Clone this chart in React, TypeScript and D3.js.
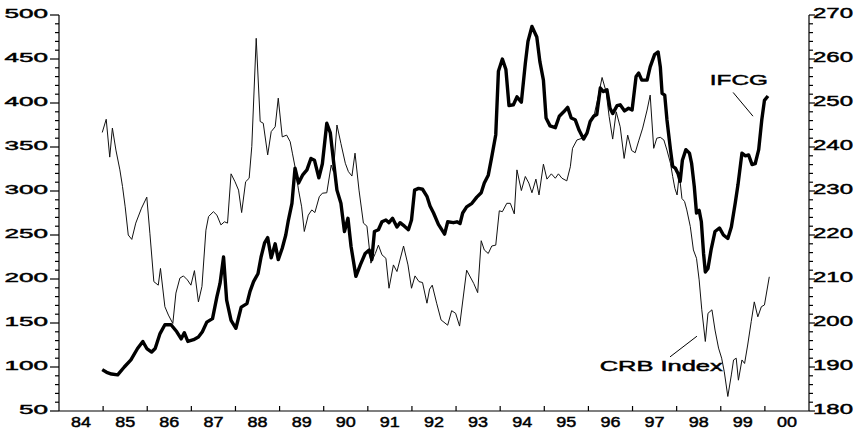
import * as d3 from "d3";
import React, { useEffect, useRef } from "react";

// IFCG index (left axis), dates as fractional years
const ifcgYears = [
  1984.98, 1985.08, 1985.19, 1985.33, 1985.48, 1985.63, 1985.78, 1985.9, 1985.99, 1986.1, 1986.18, 1986.29,
  1986.4, 1986.54, 1986.67, 1986.77, 1986.84, 1986.92, 1987.05, 1987.16, 1987.25, 1987.35, 1987.48, 1987.58,
  1987.65, 1987.73, 1987.8, 1987.9, 1988.01, 1988.13, 1988.26, 1988.33, 1988.41, 1988.51, 1988.58, 1988.66,
  1988.73, 1988.81, 1988.9, 1988.97, 1989.06, 1989.14, 1989.2, 1989.28, 1989.35, 1989.43, 1989.52, 1989.62,
  1989.71, 1989.79, 1989.89, 1989.97, 1990.07, 1990.15, 1990.22, 1990.3, 1990.39, 1990.47, 1990.55, 1990.62,
  1990.73, 1990.83, 1990.94, 1991.03, 1991.09, 1991.15, 1991.24, 1991.32, 1991.41, 1991.48, 1991.56, 1991.66,
  1991.73, 1991.83, 1991.92, 1991.99, 1992.06, 1992.15, 1992.24, 1992.34, 1992.41, 1992.49, 1992.6, 1992.74,
  1992.81, 1992.94, 1993.02, 1993.09, 1993.15, 1993.24, 1993.36, 1993.47, 1993.57, 1993.64, 1993.73, 1993.81,
  1993.9, 1993.96, 1994.05, 1994.13, 1994.2, 1994.3, 1994.38, 1994.48, 1994.57, 1994.63, 1994.72, 1994.83,
  1994.9, 1994.98, 1995.04, 1995.13, 1995.25, 1995.34, 1995.44, 1995.53, 1995.61, 1995.7, 1995.79, 1995.89,
  1995.97, 1996.04, 1996.12, 1996.19, 1996.27, 1996.34, 1996.42, 1996.49, 1996.55, 1996.65, 1996.72, 1996.82,
  1996.91, 1996.99, 1997.08, 1997.14, 1997.21, 1997.33, 1997.4, 1997.5, 1997.58, 1997.63, 1997.67, 1997.73,
  1997.78, 1997.86, 1997.91, 1997.97, 1998.03, 1998.08, 1998.13, 1998.21, 1998.29, 1998.34, 1998.4, 1998.45,
  1998.51, 1998.56, 1998.61, 1998.65, 1998.71, 1998.78, 1998.87, 1998.97, 1999.06, 1999.16, 1999.24, 1999.33,
  1999.39, 1999.48, 1999.56, 1999.63, 1999.71, 1999.78, 1999.86, 1999.93, 1999.99, 2000.07,
];
const ifcgValues = [
  97, 94, 92, 91, 100, 108, 121, 129, 121, 117, 121, 138,
  148, 148, 140, 132, 139, 129, 131, 134, 140, 151, 155, 180,
  195, 225, 176, 153, 144, 168, 172, 186, 197, 206, 225, 241,
  247, 224, 240, 222, 235, 250, 267, 286, 326, 309, 318, 324,
  337, 335, 315, 331, 377, 366, 335, 301, 286, 254, 269, 237,
  203, 216, 229, 233, 222, 254, 256, 265, 267, 264, 269, 259,
  264, 260, 256, 267, 301, 303, 302, 294, 283, 275, 262, 251,
  265, 264, 265, 263, 275, 282, 286, 293, 298, 309, 318, 339,
  364, 436, 450, 438, 397, 398, 407, 401, 445, 470, 487, 475,
  447, 426, 383, 374, 372, 385, 390, 395, 383, 381, 369, 359,
  366, 379, 385, 387, 417, 413, 415, 394, 388, 397, 398, 391,
  394, 392, 430, 434, 426, 426, 441, 455, 458, 441, 411, 409,
  381, 347, 328, 326, 320, 311, 335, 347, 343, 331, 305, 275,
  278, 265, 229, 208, 212, 233, 254, 258, 250, 246, 259, 287,
  307, 343, 340, 341, 330, 331, 347, 381, 403, 408,
];

// CRB commodity index (right axis)
const crbYears = [
  1984.98, 1985.07, 1985.15, 1985.21, 1985.29, 1985.38, 1985.44, 1985.5, 1985.57, 1985.65, 1985.74, 1985.87,
  1985.99, 1986.06, 1986.15, 1986.25, 1986.3, 1986.4, 1986.48, 1986.58, 1986.65, 1986.74, 1986.82, 1986.91,
  1986.99, 1987.07, 1987.16, 1987.24, 1987.33, 1987.39, 1987.5, 1987.58, 1987.67, 1987.75, 1987.82, 1987.9,
  1987.99, 1988.07, 1988.14, 1988.23, 1988.31, 1988.37, 1988.47, 1988.56, 1988.63, 1988.73, 1988.81, 1988.9,
  1988.97, 1989.06, 1989.16, 1989.24, 1989.29, 1989.35, 1989.43, 1989.5, 1989.56, 1989.65, 1989.73, 1989.8,
  1989.9, 1989.97, 1990.07, 1990.17, 1990.22, 1990.3, 1990.39, 1990.49, 1990.56, 1990.64, 1990.71, 1990.8,
  1990.9, 1990.98, 1991.07, 1991.17, 1991.24, 1991.32, 1991.41, 1991.48, 1991.58, 1991.66, 1991.81, 1991.91,
  1991.99, 1992.07, 1992.16, 1992.24, 1992.34, 1992.4, 1992.46, 1992.56, 1992.66, 1992.81, 1992.9, 1992.99,
  1993.08, 1993.24, 1993.4, 1993.49, 1993.57, 1993.64, 1993.73, 1993.81, 1993.9, 1993.98, 1994.05, 1994.15,
  1994.23, 1994.32, 1994.38, 1994.48, 1994.57, 1994.65, 1994.72, 1994.81, 1994.88, 1994.98, 1995.06, 1995.16,
  1995.25, 1995.32, 1995.4, 1995.51, 1995.59, 1995.64, 1995.74, 1995.86, 1995.97, 1996.06, 1996.14, 1996.22,
  1996.31, 1996.4, 1996.47, 1996.55, 1996.63, 1996.72, 1996.81, 1996.89, 1996.98, 1997.06, 1997.14, 1997.23,
  1997.33, 1997.4, 1997.48, 1997.55, 1997.63, 1997.71, 1997.78, 1997.86, 1997.91, 1997.96, 1998.01, 1998.06,
  1998.12, 1998.18, 1998.23, 1998.31, 1998.38, 1998.45, 1998.51, 1998.57, 1998.65, 1998.71, 1998.8, 1998.87,
  1998.95, 1999.02, 1999.08, 1999.16, 1999.24, 1999.29, 1999.35, 1999.4, 1999.48, 1999.54, 1999.61, 1999.69,
  1999.76, 1999.84, 1999.92, 1999.99, 2000.1,
];
const crbValues = [
  243.3, 246.3, 237.7, 244.3, 239.3, 234.8, 231.0, 226.4, 220.0, 219.0, 222.7, 226.1,
  228.6, 220.4, 209.4, 208.6, 212.4, 203.7, 201.8, 199.9, 206.8, 210.2, 210.7, 209.8,
  208.6, 211.9, 204.8, 208.3, 221.1, 224.2, 225.3, 224.5, 222.3, 223.0, 222.7, 233.9,
  232.1, 230.2, 225.1, 232.1, 232.9, 240.1, 264.7, 245.8, 245.4, 238.2, 243.5, 244.6,
  251.1, 242.3, 242.7, 241.2, 238.6, 235.5, 230.2, 226.4, 220.8, 224.5, 225.7, 225.1,
  228.7, 229.5, 229.6, 235.9, 234.4, 245.0, 240.8, 236.3, 234.4, 233.4, 238.6, 230.2,
  222.7, 222.0, 213.6, 215.8, 217.7, 215.5, 214.7, 207.9, 213.2, 211.7, 217.5, 213.2,
  207.9, 210.7, 209.4, 209.2, 204.5, 207.7, 208.6, 204.5, 200.7, 199.5, 202.8, 202.2,
  199.3, 212.0, 209.0, 206.9, 218.7, 216.6, 215.8, 217.5, 217.7, 225.5, 225.3, 227.2,
  227.2, 224.8, 234.8, 230.1, 233.3, 231.8, 229.6, 232.7, 229.1, 236.1, 232.7, 233.9,
  232.9, 233.9, 232.9, 232.3, 235.5, 239.7, 241.6, 242.0, 243.5, 246.1, 247.7, 251.4,
  255.8, 252.6, 246.9, 241.8, 248.0, 244.6, 237.4, 242.7, 239.2, 238.7, 241.4, 244.3,
  248.4, 251.8, 239.7, 242.0, 242.2, 241.6, 239.3, 236.3, 233.3, 230.6, 229.1, 233.9,
  228.3, 227.6, 225.7, 221.9, 216.6, 214.7, 209.8, 203.0, 195.8, 202.2, 203.0, 198.4,
  194.3, 192.0, 188.9, 183.3, 188.2, 191.6, 192.0, 187.0, 191.6, 190.8, 195.0, 200.3,
  204.8, 201.4, 203.7, 204.1, 210.5,
];

const yearLabels = ["84", "85", "86", "87", "88", "89", "90", "91", "92", "93", "94", "95", "96", "97", "98", "99", "00"];
const leftTicks = [50, 100, 150, 200, 250, 300, 350, 400, 450, 500];
const rightTicks = [180, 190, 200, 210, 220, 230, 240, 250, 260, 270];

const FONT = "'Liberation Sans', Arial, sans-serif";

const App: React.FC = () => {
  const svgRef = useRef<SVGSVGElement | null>(null);

  useEffect(() => {
    const svg = d3.select(svgRef.current);
    const width = 862;
    const height = 433;
    const margin = { top: 15, right: 53, bottom: 22, left: 59 };

    svg.selectAll("*").remove();

    const x = d3.scaleLinear().domain([1984, 2001]).range([margin.left, width - margin.right]);
    const yL = d3.scaleLinear().domain([50, 500]).range([height - margin.bottom, margin.top]);
    const yR = d3.scaleLinear().domain([180, 270]).range([height - margin.bottom, margin.top]);

    const axes = svg.append("g").attr("stroke", "#000").attr("stroke-width", 1.2);
    const xl = margin.left;
    const xr = width - margin.right;
    const yb = height - margin.bottom;

    // axis lines
    axes.append("line").attr("x1", xl).attr("x2", xl).attr("y1", margin.top).attr("y2", yb);
    axes.append("line").attr("x1", xr).attr("x2", xr).attr("y1", margin.top).attr("y2", yb);
    axes.append("line").attr("x1", xl).attr("x2", xr).attr("y1", yb).attr("y2", yb);

    // left ticks: minor every 10
    axes
      .selectAll(".lt")
      .data(d3.range(50, 501, 10))
      .join("line")
      .attr("x1", (d) => xl - (d % 50 === 0 ? 9 : 4))
      .attr("x2", xl)
      .attr("y1", (d) => yL(d))
      .attr("y2", (d) => yL(d));

    // right ticks: minor every 2
    axes
      .selectAll(".rt")
      .data(d3.range(180, 271, 2))
      .join("line")
      .attr("x1", xr)
      .attr("x2", (d) => xr + (d % 10 === 0 ? 6 : 4))
      .attr("y1", (d) => yR(d))
      .attr("y2", (d) => yR(d));

    // year ticks
    axes
      .selectAll(".bt")
      .data(d3.range(1985, 2001))
      .join("line")
      .attr("x1", (d) => x(d))
      .attr("x2", (d) => x(d))
      .attr("y1", yb - 5)
      .attr("y2", yb);

    // slight stroke to mimic the heavier scanned lettering
    const txt = svg
      .append("g")
      .attr("font-family", FONT)
      .attr("fill", "#000")
      .attr("stroke", "#000")
      .attr("stroke-width", 0.45);

    txt
      .selectAll(".ll")
      .data(leftTicks)
      .join("text")
      .attr("x", 48)
      .attr("y", (d) => yL(d) - 2)
      .attr("dy", "0.35em")
      .attr("text-anchor", "end")
      .attr("font-size", 13)
      .attr("textLength", (d) => String(d).length * 14.5)
      .attr("lengthAdjust", "spacingAndGlyphs")
      .text((d) => String(d));

    txt
      .selectAll(".rl")
      .data(rightTicks)
      .join("text")
      .attr("x", xr + 4)
      .attr("y", (d) => yR(d) - 2)
      .attr("dy", "0.35em")
      .attr("font-size", 14)
      .attr("textLength", 40)
      .attr("lengthAdjust", "spacingAndGlyphs")
      .text((d) => String(d));

    txt
      .selectAll(".xl")
      .data(yearLabels)
      .join("text")
      .attr("x", (_, i) => x(1984 + i + 0.5))
      .attr("y", 422)
      .attr("dy", "0.35em")
      .attr("text-anchor", "middle")
      .attr("font-size", 14)
      .attr("textLength", 20)
      .attr("lengthAdjust", "spacingAndGlyphs")
      .text((d) => d);

    // series
    const crbLine = d3
      .line<number>()
      .x((_, i) => x(crbYears[i]))
      .y((d) => yR(d));
    const ifcgLine = d3
      .line<number>()
      .x((_, i) => x(ifcgYears[i]))
      .y((d) => yL(d));

    svg
      .append("path")
      .datum(crbValues)
      .attr("fill", "none")
      .attr("stroke", "#111")
      .attr("stroke-width", 1)
      .attr("d", crbLine);

    svg
      .append("path")
      .datum(ifcgValues)
      .attr("fill", "none")
      .attr("stroke", "#000")
      .attr("stroke-width", 3.4)
      .attr("stroke-linejoin", "round")
      .attr("d", ifcgLine);

    // annotations
    txt
      .append("text")
      .attr("x", x(1999.41))
      .attr("y", yL(426))
      .attr("dy", "0.35em")
      .attr("text-anchor", "middle")
      .attr("font-size", 14)
      .attr("textLength", 58)
      .attr("lengthAdjust", "spacingAndGlyphs")
      .text("IFCG");
    svg
      .append("line")
      .attr("x1", x(1999.28))
      .attr("y1", yL(412))
      .attr("x2", x(1999.73))
      .attr("y2", yL(385))
      .attr("stroke", "#000");

    txt
      .append("text")
      .attr("x", x(1997.65))
      .attr("y", yR(190.2))
      .attr("dy", "0.35em")
      .attr("text-anchor", "middle")
      .attr("font-size", 14)
      .attr("textLength", 123)
      .attr("lengthAdjust", "spacingAndGlyphs")
      .text("CRB Index");
    svg
      .append("line")
      .attr("x1", x(1997.85))
      .attr("y1", yR(192.3))
      .attr("x2", x(1998.46))
      .attr("y2", yR(197))
      .attr("stroke", "#000");
  }, []);

  return (
    <svg
      ref={svgRef}
      width={862}
      height={433}
      style={{ position: "absolute", left: 0, top: 0, background: "#fff" }}
    ></svg>
  );
};

export default App;
